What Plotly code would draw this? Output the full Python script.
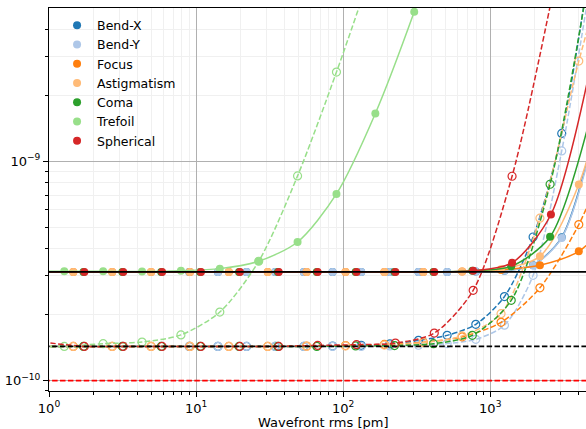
import plotly.graph_objects as go

modes = ["Bend-X", "Bend-Y", "Focus", "Astigmatism", "Coma", "Trefoil", "Spherical"]
colors = ["#1f77b4", "#aec7e8", "#ff7f0e", "#ffbb78", "#2ca02c", "#98df8a", "#d62728"]

# Wavefront rms of each sample [pm]
rms_bend = [8.99, 14.08, 22.05, 34.53, 54.07, 84.67, 132.6, 207.6, 325.1, 509.2, 797.4, 1249, 1956, 3062]
rms_focus_astig = [1.463, 2.689, 4.943, 9.086, 16.70, 30.70, 56.43, 103.7, 190.6, 350.4, 644.1, 1184, 2176, 4000]
rms_coma = [1.716, 3.154, 5.797, 10.66, 19.59, 36.00, 66.18, 121.6, 223.6, 411.0, 755.4, 1389, 2552]
rms_trefoil = [1.270, 2.334, 4.291, 7.887, 14.50, 26.65, 48.98, 90.03, 165.5, 304.2]
rms_spherical = [1.738, 3.195, 5.872, 10.79, 19.84, 36.47, 67.04, 123.2, 226.5, 416.3, 765.3, 1407, 2586]

# Upper set (filled markers, solid curves), units of 1e-10
bendx_upper = [3.13, 3.13, 3.13, 3.13, 3.13, 3.13, 3.13, 3.13, 3.13, 3.13, 3.14, 3.17, 3.36, 4.50]
bendy_upper = [3.13, 3.13, 3.13, 3.13, 3.13, 3.13, 3.13, 3.13, 3.13, 3.13, 3.14, 3.17, 3.35, 4.47]
focus_upper = [3.13, 3.13, 3.13, 3.13, 3.13, 3.13, 3.13, 3.13, 3.13, 3.13, 3.14, 3.195, 3.355, 3.887]
astig_upper = [3.13, 3.13, 3.13, 3.13, 3.13, 3.13, 3.13, 3.13, 3.13, 3.13, 3.145, 3.22, 3.687, 7.829]
coma_upper = [3.13, 3.13, 3.13, 3.13, 3.13, 3.13, 3.13, 3.13, 3.13, 3.13, 3.17, 3.32, 4.524]
trefoil_upper = [3.15, 3.15, 3.145, 3.167, 3.24, 3.50, 4.285, 7.093, 16.50, 47.95]
spherical_upper = [3.13, 3.13, 3.13, 3.13, 3.13, 3.13, 3.13, 3.13, 3.13, 3.13, 3.166, 3.445, 5.718]

# Lower set (open markers, dashed curves), units of 1e-10
bendx_lower = [1.433, 1.433, 1.433, 1.433, 1.433, 1.437, 1.449, 1.47, 1.527, 1.609, 1.806, 2.416, 4.516, 13.38]
bendy_lower = [1.433, 1.433, 1.433, 1.433, 1.433, 1.433, 1.433, 1.44, 1.45, 1.476, 1.543, 1.79, 3.02, 11.14]
focus_lower = [1.433, 1.433, 1.433, 1.433, 1.433, 1.433, 1.438, 1.446, 1.463, 1.496, 1.584, 1.844, 2.65, 5.144]
astig_lower = [1.433, 1.433, 1.433, 1.433, 1.433, 1.433, 1.433, 1.44, 1.453, 1.49, 1.60, 2.02, 5.5, 28.58]
coma_lower = [1.433, 1.433, 1.433, 1.433, 1.433, 1.433, 1.433, 1.44, 1.445, 1.475, 1.609, 2.323, 7.85]
trefoil_lower = [1.433, 1.475, 1.50, 1.617, 2.055, 3.50, 8.57, 25.46]
spherical_lower = [1.433, 1.433, 1.433, 1.433, 1.433, 1.433, 1.448, 1.459, 1.483, 1.648, 2.581, 8.54]

# Where each fitted curve enters and leaves the axes
lead_rms = 0.9
upper_lead = [3.13, 3.13, 3.13, 3.13, 3.13, 3.15, 3.13]
lower_lead = [1.433, 1.433, 1.433, 1.433, 1.433, 1.433, 1.50]
upper_tail_rms = [4797, 4797, 7352, 7352, 4693, 559, 4752]
upper_tail = [11.4, 11.1, 5.83, 36.0, 15.0, 160.0, 26.0]
lower_tail_rms = [4797, 4797, 7352, 7352, 4693, 165.5, 2586]
lower_tail = [80.0, 65.0, 13.6, 120.0, 70.0, 83.0, 53.0]

# Reference levels
level_upper = 3.13e-10
level_lower = 1.433e-10
level_limit = 1.0e-10

rms_sets = [rms_bend, rms_bend, rms_focus_astig, rms_focus_astig, rms_coma, rms_trefoil, rms_spherical]
upper_sets = [bendx_upper, bendy_upper, focus_upper, astig_upper, coma_upper, trefoil_upper, spherical_upper]
lower_sets = [bendx_lower, bendy_lower, focus_lower, astig_lower, coma_lower, trefoil_lower, spherical_lower]

E10 = 1e-10
FONT = "DejaVu Sans"
DASH = "5.5px,2.4px"

fig = go.Figure()

for i, name in enumerate(modes):
    col = colors[i]
    xs = rms_sets[i]
    up = [v * E10 for v in upper_sets[i]]
    lo = [v * E10 for v in lower_sets[i]]
    xl = xs[:len(lo)]

    fig.add_trace(go.Scatter(
        x=[lead_rms] + xs + [upper_tail_rms[i]],
        y=[upper_lead[i] * E10] + up + [upper_tail[i] * E10],
        mode="lines", line=dict(color=col, width=1.5, shape="spline", smoothing=0.8),
        showlegend=False, hoverinfo="skip"))
    fig.add_trace(go.Scatter(
        x=xs, y=up, mode="markers", name=name,
        marker=dict(color=col, size=8, symbol="circle", line=dict(width=0)),
        showlegend=True))
    fig.add_trace(go.Scatter(
        x=[lead_rms] + xl + [lower_tail_rms[i]],
        y=[lower_lead[i] * E10] + lo + [lower_tail[i] * E10],
        mode="lines", line=dict(color=col, width=1.5, dash=DASH, shape="spline", smoothing=0.8),
        showlegend=False, hoverinfo="skip"))
    fig.add_trace(go.Scatter(
        x=xl, y=lo, mode="markers",
        marker=dict(color=col, size=8, symbol="circle-open", line=dict(width=1.2, color=col)),
        showlegend=False))

span = [0.5, 1e4]
fig.add_trace(go.Scatter(x=span, y=[level_upper] * 2, mode="lines",
                         line=dict(color="black", width=1.8), showlegend=False, hoverinfo="skip"))
fig.add_trace(go.Scatter(x=span, y=[level_lower] * 2, mode="lines",
                         line=dict(color="black", width=1.8, dash=DASH), showlegend=False, hoverinfo="skip"))
fig.add_trace(go.Scatter(x=span, y=[level_limit] * 2, mode="lines",
                         line=dict(color="#ff0000", width=1.8, dash=DASH), showlegend=False, hoverinfo="skip"))

x_major = [1, 10, 100, 1000]
x_major_text = ["10<sup>0</sup>", "10<sup>1</sup>", "10<sup>2</sup>", "10<sup>3</sup>"]
y_major = [1e-10, 1e-9]
y_major_text = ["10<sup>\u221210</sup>", "10<sup>\u22129</sup>"]
x_minor = [m * 10 ** d for d in range(0, 4) for m in range(2, 10)]
y_minor = [m * 10.0 ** d for d in (-11, -10, -9) for m in range(2, 10)]

fig.update_layout(
    width=586, height=429,
    margin=dict(l=49, r=0, t=8, b=38, autoexpand=False),
    paper_bgcolor="white", plot_bgcolor="white",
    font=dict(family=FONT, size=13, color="black"),
    showlegend=True,
    legend=dict(x=0.015, y=0.993, xanchor="left", yanchor="top",
                bgcolor="rgba(255,255,255,0)", borderwidth=0,
                font=dict(family=FONT, size=12.5), itemsizing="trace",
                tracegroupgap=0),
    xaxis=dict(
        type="log", range=[0, 3.651], automargin=False,
        tickmode="array", tickvals=x_major, ticktext=x_major_text,
        ticks="outside", ticklen=5, tickwidth=1, tickcolor="black",
        showgrid=True, gridcolor="#b0b0b0", gridwidth=1,
        minor=dict(tickmode="array", tickvals=x_minor, ticks="outside", ticklen=3,
                   tickcolor="black", showgrid=True, gridcolor="#f0f0f0", gridwidth=1),
        showline=True, linecolor="black", linewidth=1, mirror=True,
        zeroline=False,
        tickfont=dict(family=FONT, size=13),
    ),
    yaxis=dict(
        type="log", range=[-10.047, -8.302], automargin=False,
        tickmode="array", tickvals=y_major, ticktext=y_major_text,
        ticks="outside", ticklen=5, tickwidth=1, tickcolor="black",
        showgrid=True, gridcolor="#b0b0b0", gridwidth=1,
        minor=dict(tickmode="array", tickvals=y_minor, ticks="outside", ticklen=3,
                   tickcolor="black", showgrid=True, gridcolor="#f0f0f0", gridwidth=1),
        showline=True, linecolor="black", linewidth=1, mirror=False,
        zeroline=False,
        tickfont=dict(family=FONT, size=13),
    ),
    annotations=[dict(
        text="Wavefront rms [pm]", xref="paper", yref="paper",
        x=0.51, y=-0.081, xanchor="center", yanchor="middle",
        showarrow=False, font=dict(family=FONT, size=13))],
)

fig.write_html("out.html")
